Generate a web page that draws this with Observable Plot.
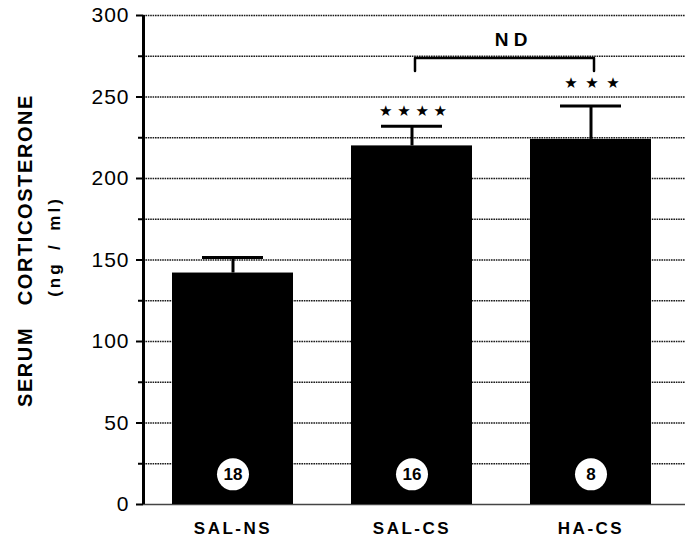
<!DOCTYPE html>
<html>
<head>
<meta charset="utf-8">
<script src="https://cdn.jsdelivr.net/npm/d3@7"></script>
<script src="https://cdn.jsdelivr.net/npm/@observablehq/plot@0.6"></script>
<style>
  html, body { margin: 0; padding: 0; background: #fff; }
  #chart svg { display: block; overflow: visible; }
  g[aria-label="y-axis tick label"] text { letter-spacing: 1px; }
  g[aria-label="x-axis tick label"] text { letter-spacing: 2.5px; }
  g[aria-description="ytitle"] text { letter-spacing: 1.6px; white-space: pre; }
  g[aria-description="yunit"] text { letter-spacing: 3px; white-space: pre; }
</style>
</head>
<body>
<div id="chart"></div>
<script>
// ---- data ----
const groups = ["SAL-NS", "SAL-CS", "HA-CS"];
const means = [142, 220, 224];
const sems = [9.5, 12, 20.5];
const nLabels = ["18", "16", "8"];
const starLabels = ["", "★ ★ ★ ★", "★\u2002★\u2002★"];
const starLevels = [0, 241, 258.5];
const majorTicks = [0, 50, 100, 150, 200, 250, 300];
const minorTicks = [25, 75, 125, 175, 225, 275];
const gridValues = [25, 50, 75, 100, 125, 150, 175, 200, 225, 250, 275, 300];
const bracketGroups = ["SAL-CS", "HA-CS"];
const bracketLevel = 274;
const bracketLeg = 266;
const ndLevel = 285;
const nCircleLevel = 18.5;
const yTitle = "SERUM\u2003CORTICOSTERONE";
const yUnit = "(ng\u2002/\u2002ml)";

// ---- table built from arrays ----
const data = groups.map((g, i) => ({
  group: g, mean: means[i], top: means[i] + sems[i],
  n: nLabels[i], stars: starLabels[i], starY: starLevels[i]
}));
const bracket = [
  {x: bracketGroups[0], y: bracketLeg},
  {x: bracketGroups[0], y: bracketLevel},
  {x: bracketGroups[1], y: bracketLevel},
  {x: bracketGroups[1], y: bracketLeg}
];

// ---- layout ----
const W = 689, H = 540;
const mL = 143, mT = 15, mB = 36, mR = 4;
const xRange = [143, 680];
const pIn = 0.324, pOut = 0.162;
const step = (xRange[1] - xRange[0]) / (groups.length - pIn + 2 * pOut);
const axisDx = -(pOut * step + (1 - pIn) * step / 2);

const chart = Plot.plot({
  width: W,
  height: H,
  marginLeft: mL,
  marginTop: mT,
  marginBottom: mB,
  marginRight: mR,
  style: {fontFamily: "'Liberation Sans', Arial, Helvetica, sans-serif", color: "#000", background: "#fff"},
  x: {domain: groups, range: xRange, paddingInner: pIn, paddingOuter: pOut, axis: null},
  y: {domain: [0, 300], axis: null},
  marks: [
    Plot.ruleY(gridValues, {stroke: "#1a1a1a", strokeWidth: 1.7, strokeDasharray: "1.6,0.8"}),
    Plot.ruleY([0], {stroke: "#444", strokeWidth: 1.5}),
    Plot.barY(data, {x: "group", y: "mean", fill: "#000"}),
    Plot.ruleX(data, {x: "group", y1: "mean", y2: "top", stroke: "#000", strokeWidth: 3}),
    Plot.tickY(data, {x: "group", y: "top", stroke: "#000", strokeWidth: 3, insetLeft: 30, insetRight: 30}),
    Plot.dot(data, {x: "group", y: () => nCircleLevel, r: 16, fill: "#fff", stroke: "none"}),
    Plot.text(data, {x: "group", y: () => nCircleLevel, text: "n", fontSize: 17, fontWeight: "bold", fill: "#000"}),
    Plot.text(data.filter(d => d.stars), {x: "group", y: "starY", text: "stars", fontSize: 15, fontFamily: "'DejaVu Sans', sans-serif", fill: "#000", dx: 1}),
    Plot.line(bracket, {x: "x", y: "y", stroke: "#000", strokeWidth: 2.5, dx: 3}),
    Plot.text(["N D"], {x: () => bracketGroups[0], y: () => ndLevel, dx: 99, fontSize: 19, fontWeight: "bold"}),
    Plot.ruleX([groups[0]], {x: d => d, y1: 0, y2: 300, stroke: "#000", strokeWidth: 3, dx: axisDx}),
    Plot.axisY({ticks: majorTicks, tickSize: 7, tickPadding: 7, fontSize: 21, strokeWidth: 2, label: null}),
    Plot.axisY({ticks: minorTicks, tickSize: 5, tickFormat: () => "", strokeWidth: 2, label: null}),
    Plot.axisX({tickSize: 0, tickPadding: 17, fontSize: 17, fontWeight: "bold", label: null}),
    Plot.text([yTitle], {frameAnchor: "left", textAnchor: "middle", lineAnchor: "middle", rotate: -90, dx: -118, dy: -9.5, fontSize: 20, fontWeight: "bold", ariaDescription: "ytitle"}),
    Plot.text([yUnit], {frameAnchor: "left", textAnchor: "middle", lineAnchor: "middle", rotate: -90, dx: -89, dy: -13.5, fontSize: 17, fontWeight: "bold", ariaDescription: "yunit"})
  ]
});
document.getElementById("chart").append(chart);
</script>
</body>
</html>
